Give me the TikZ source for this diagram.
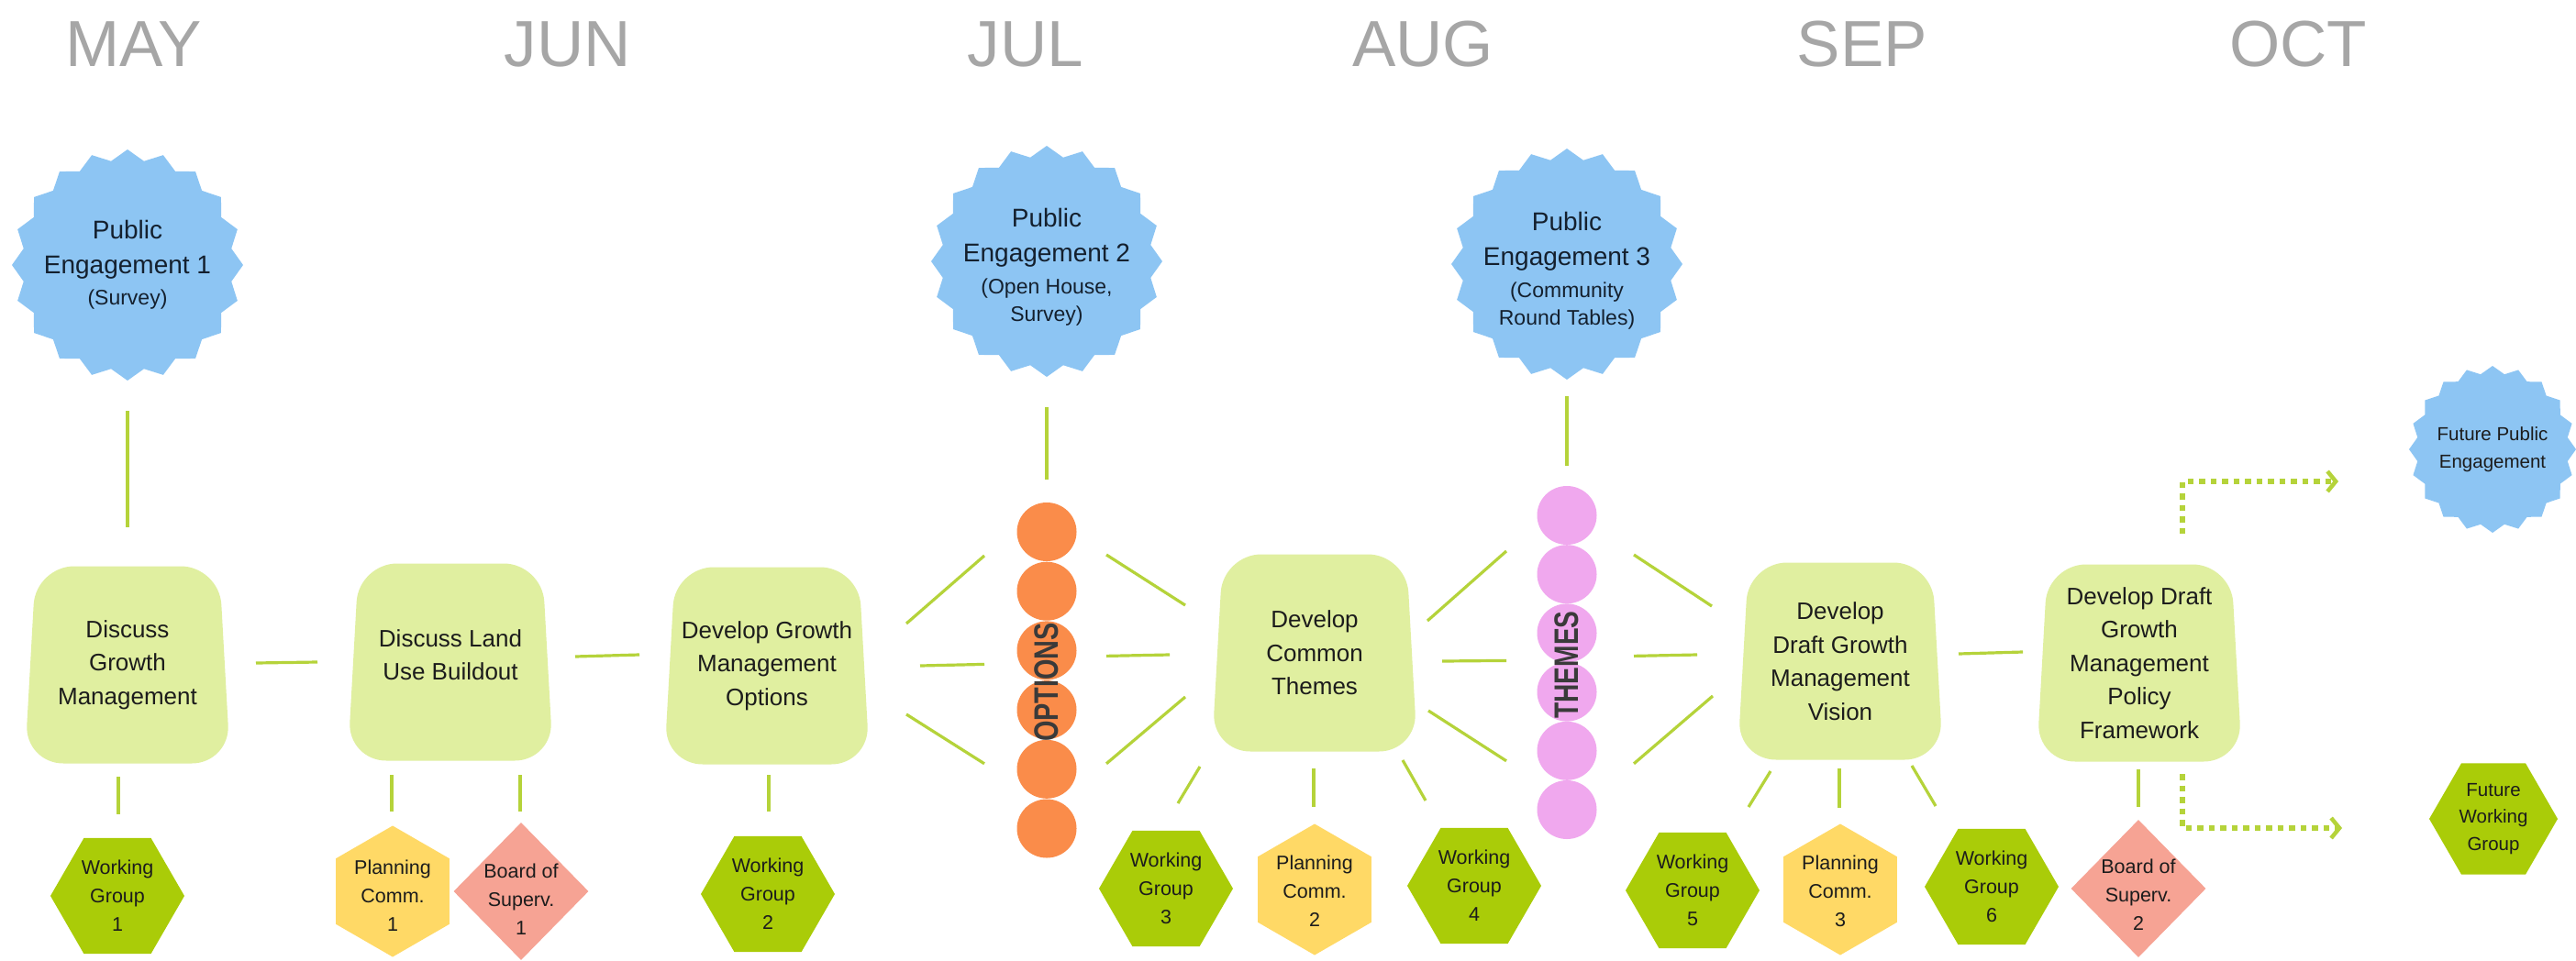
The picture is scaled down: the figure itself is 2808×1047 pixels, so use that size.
\documentclass[tikz,border=0pt]{standalone}
\usepackage{fontspec}
\usepackage{graphicx}
\setmainfont{Liberation Sans}
\usetikzlibrary{shapes.geometric,calc,arrows.meta}

\definecolor{monthgray}{HTML}{A6A6A6}
\definecolor{burstblue}{HTML}{8DC5F3}
\definecolor{boxgreen}{HTML}{E0EFA0}
\definecolor{linegreen}{HTML}{B5D33A}
\definecolor{wggreen}{HTML}{AACC08}
\definecolor{pcyellow}{HTML}{FFD966}
\definecolor{bssalmon}{HTML}{F6A394}
\definecolor{optorange}{HTML}{FA8C4A}
\definecolor{thpink}{HTML}{F0A8EE}
\definecolor{darktext}{HTML}{1C1C1C}
\definecolor{navytext}{HTML}{14202E}
\definecolor{labelgray}{HTML}{3A3A3A}

\newcommand\subline{\fontsize{23}{30}\selectfont}

% a 20-pointed starburst centred at (#1,#2) with outer radius #3
\newcommand\drawburst[3]{%
  \fill[burstblue] plot[samples at={0,...,39}, variable=\k]
    ({#1+#3*(1-0.09*mod(\k,2))*cos(9*\k+90)},{#2+#3*(1-0.09*mod(\k,2))*sin(9*\k+90)}) -- cycle;
}

% a stage box: slightly flared, soft-cornered panel with its named node
% #1 name, #2 x, #3 y, #4 label options, #5 text
\newcommand\stagebox[5]{%
  \fill[boxgreen, rounded corners=42pt]
    (#2-112,#3+107.5) -- (#2-100,#3-107.5) -- (#2+100,#3-107.5) -- (#2+112,#3+107.5) -- cycle;
  \node[stagebody, label={[stagetext,#4]center:{#5}}] (#1) at (#2,#3) {};
}

\tikzset{
  link/.style={draw=linegreen, line width=3.2pt},
  dotlink/.style={draw=linegreen, line width=6.5pt, dash pattern=on 6.5pt off 6pt,
    -{Straight Barb[length=9pt,width=22pt,line width=4.5pt]}},
  month/.style={text=monthgray, font=\fontsize{71}{71}\selectfont, anchor=base, inner sep=0pt},
  stagebody/.style={rectangle, minimum width=224pt, minimum height=215pt, inner sep=0pt},
  stagetext/.style={align=center, text=darktext, font=\fontsize{26}{36.5}\selectfont, inner sep=0pt},
  wg/.style={regular polygon, regular polygon sides=6, minimum size=146pt, inner sep=0pt, fill=wggreen},
  pc/.style={regular polygon, regular polygon sides=6, shape border rotate=90,
    minimum size=143pt, inner sep=0pt, fill=pcyellow},
  bs/.style={diamond, minimum width=147pt, minimum height=150pt, inner sep=0pt, fill=bssalmon},
  smalltext/.style={align=center, text=darktext, font=\fontsize{21.5}{31}\selectfont, inner sep=0pt},
  futuretext/.style={align=center, text=darktext, font=\fontsize{20.5}{29.5}\selectfont, inner sep=0pt},
  opt/.style={ellipse, minimum width=65pt, minimum height=64pt, inner sep=0pt, fill=optorange},
  themedot/.style={ellipse, minimum width=65pt, minimum height=64pt, inner sep=0pt, fill=thpink},
  columnlabel/.style={rotate=90, text=labelgray, font=\fontsize{37}{37}\selectfont\bfseries, inner sep=0pt},
  bursttext/.style={align=center, text=navytext, font=\fontsize{28}{38}\selectfont, inner sep=0pt},
}

\begin{document}
\begin{tikzpicture}[x=1pt,y=-1pt]
\useasboundingbox (0,0) rectangle (2808,1047);
\fill[white] (0,0) rectangle (2808,1047);

% month headings
\node[month] (may) at (146,72) {MAY};
\node[month] (jun) at (619,72) {JUN};
\node[month] (jul) at (1118,72) {JUL};
\node[month] (aug) at (1551,72) {AUG};
\node[month] (sep) at (2030,72) {SEP};
\node[month] (oct) at (2505,72) {OCT};

% public engagement bursts
\drawburst{139}{289}{126}
\node[bursttext] (pe1) at (139,289) {Public\\Engagement 1\\[-4pt]\subline (Survey)};
\drawburst{1141}{285}{126}
\node[bursttext, yshift=-6pt] (pe2) at (1141,285) {Public\\Engagement 2\\[-3pt]\subline (Open House,\\[-8pt]\subline Survey)};
\drawburst{1708}{288}{126}
\node[bursttext, yshift=-7pt] (pe3) at (1708,288) {Public\\Engagement 3\\[-3pt]\subline (Community\\[-8pt]\subline Round Tables)};
\drawburst{2717}{490}{91}
\node[futuretext] (fpe) at (2717,490) {Future Public\\Engagement};

% work stages
\stagebox{box1}{139}{725}{}{Discuss\\Growth\\Management}
\stagebox{box2}{491}{722}{yshift=8pt}{Discuss Land\\Use Buildout}
\stagebox{box3}{836}{726}{}{Develop Growth\\Management\\Options}
\stagebox{box4}{1433}{712}{}{Develop\\Common\\Themes}
\stagebox{box5}{2006}{721}{}{Develop\\Draft Growth\\Management\\Vision}
\stagebox{box6}{2332}{723}{}{Develop Draft\\Growth\\Management\\Policy\\Framework}

% options and themes columns
\foreach \k in {1,...,6} {
  \node[opt] (opt\k) at (1141,{580+64.7*(\k-1)}) {};
  \node[themedot] (thm\k) at (1708,{562+64.2*(\k-1)}) {};
}
\node[columnlabel] (optlabel) at (1141,744) {\scalebox{0.78}[1]{OPTIONS}};
\node[columnlabel] (thmlabel) at (1708,725) {\scalebox{0.76}[1]{THEMES}};

% committees and groups
\node[wg, label={[smalltext]center:{Working\\Group\\1}}] (wg1) at (128,977) {};
\node[pc, label={[smalltext, yshift=-5pt]center:{Planning\\Comm.\\1}}] (pc1) at (428,972) {};
\node[bs, label={[smalltext, yshift=-9pt]center:{Board of\\Superv.\\1}}] (bs1) at (568,972) {};
\node[wg, label={[smalltext]center:{Working\\Group\\2}}] (wg2) at (837,975) {};
\node[wg, label={[smalltext]center:{Working\\Group\\3}}] (wg3) at (1271,969) {};
\node[pc, label={[smalltext, yshift=-2pt]center:{Planning\\Comm.\\2}}] (pc2) at (1433,970) {};
\node[wg, label={[smalltext]center:{Working\\Group\\4}}] (wg4) at (1607,966) {};
\node[wg, label={[smalltext]center:{Working\\Group\\5}}] (wg5) at (1845,971) {};
\node[pc, label={[smalltext, yshift=-2pt]center:{Planning\\Comm.\\3}}] (pc3) at (2006,970) {};
\node[wg, label={[smalltext]center:{Working\\Group\\6}}] (wg6) at (2171,967) {};
\node[bs, label={[smalltext, yshift=-7pt]center:{Board of\\Superv.\\2}}] (bs2) at (2331,969) {};
\node[wg, minimum size=140pt, label={[futuretext]center:{Future\\Working\\Group}}] (fwg) at (2718,893) {};

% engagement feeds
\draw[link] ($(pe1)+(0,159)$) -- ($(box1)+(0,-150)$);
\draw[link] ($(pe2)+(0,153)$) -- ($(opt1)+(0,-57)$);
\draw[link] ($(pe3)+(0,137)$) -- ($(thm1)+(0,-54)$);

% stage sequence
\draw[link] ($(box1)+(140,-2)$) -- ($(box2)+(-145,0)$);
\draw[link] ($(box2)+(136,-6)$) -- ($(box3)+(-139,-12)$);
\draw[link] ($(box3)+(152,-46)$) -- ($(opt1)+(-68,26)$);
\draw[link] ($(box3)+(167,0)$) -- ($(opt3)+(-68,15)$);
\draw[link] ($(box3)+(152,53)$) -- ($(opt5)+(-68,-6)$);
\draw[link] ($(opt1)+(65,25)$) -- ($(box4)+(-141,-52)$);
\draw[link] ($(opt3)+(65,6)$) -- ($(box4)+(-158,2)$);
\draw[link] ($(opt5)+(65,-6)$) -- ($(box4)+(-141,48)$);
\draw[link] ($(box4)+(123,-35)$) -- ($(thm1)+(-66,39)$);
\draw[link] ($(box4)+(139,9)$) -- ($(thm3)+(-66,30)$);
\draw[link] ($(box4)+(124,63)$) -- ($(thm5)+(-66,11)$);
\draw[link] ($(thm1)+(73,43)$) -- ($(box5)+(-140,-60)$);
\draw[link] ($(thm3)+(73,25)$) -- ($(box5)+(-156,-7)$);
\draw[link] ($(thm5)+(73,14)$) -- ($(box5)+(-139,38)$);
\draw[link] ($(box5)+(129,-8)$) -- ($(box6)+(-127,-12)$);

% stage to committee links
\draw[link] ($(box1)+(-10,122)$) -- ($(wg1)+(1,-89)$);
\draw[link] ($(box2)+(-64,123)$) -- ($(pc1)+(-1,-87)$);
\draw[link] ($(box2)+(76,123)$) -- ($(bs1)+(-1,-87)$);
\draw[link] ($(box3)+(2,119)$) -- ($(wg2)+(1,-90)$);
\draw[link] ($(box4)+(-125,124)$) -- ($(wg3)+(13,-93)$);
\draw[link] ($(box4)+(-1,126)$) -- ($(pc2)+(-1,-90)$);
\draw[link] ($(box4)+(96,117)$) -- ($(wg4)+(-53,-93)$);
\draw[link] ($(box5)+(-76,120)$) -- ($(wg5)+(61,-91)$);
\draw[link] ($(box5)+(-1,117)$) -- ($(pc3)+(-1,-89)$);
\draw[link] ($(box5)+(78,114)$) -- ($(wg6)+(-61,-88)$);
\draw[link] ($(box6)+(-1,116)$) -- ($(bs2)+(0,-89)$);

% hand-offs to the next phase
\draw[dotlink] ($(box6)+(47,-141)$) |- ($(fpe)+(-168,35)$);
\draw[dotlink] ($(box6)+(47,121)$) |- ($(fwg)+(-165,10)$);
\end{tikzpicture}
\end{document}
